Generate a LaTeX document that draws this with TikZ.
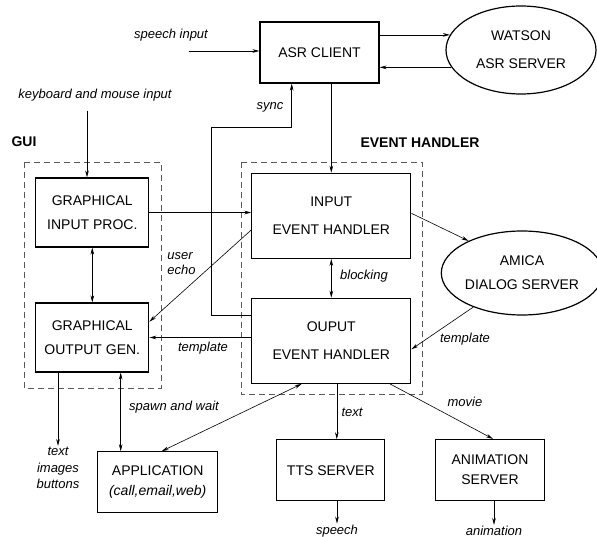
\documentclass[tikz,border=0pt]{standalone}
\usepackage{fontspec}
\setmainfont{Liberation Sans}
\usetikzlibrary{arrows.meta,shapes.geometric}

\begin{document}
\begin{tikzpicture}[x=1pt,y=-1pt,>={Stealth[length=7pt,width=3.6pt]},line width=0.6pt,
    font=\fontsize{14}{24}\selectfont,
    box/.style={draw,line width=1.2pt,align=center,inner sep=0pt},
    srv/.style={draw,ellipse,line width=1.2pt,align=center,inner sep=0pt},
    lbl/.style={font=\fontsize{13}{15}\selectfont\itshape,inner sep=1pt},
    title/.style={font=\fontsize{14}{16}\selectfont\bfseries},
    group/.style={draw=black!65,dash pattern=on 6pt off 4pt,line width=0.9pt}]
  \useasboundingbox (0,0) rectangle (597,537);
  \coordinate (spin) at (189,51);
  \coordinate (kbin) at (87,111);
  \coordinate (syncbend) at (211.7,127.3);
  % groups
  \draw[group] (24,162) rectangle (161,388);
  \draw[group] (241,162) rectangle (422,394);
  \node[title] (guititle) at (24,142) {GUI};
  \node[title] (ehtitle) at (420,143) {EVENT HANDLER};
  % boxes
  \node[box,minimum width=119pt,minimum height=61pt] (asr) at (319.5,52.5) {ASR CLIENT};
  \node[srv,minimum width=150pt,minimum height=88pt,font=\fontsize{14}{28}\selectfont] (watson) at (521,50) {WATSON\\ASR SERVER};
  \node[box,minimum width=113pt,minimum height=69pt] (gip) at (92.3,212.5) {GRAPHICAL\\INPUT PROC.};
  \node[box,minimum width=113pt,minimum height=69pt] (gog) at (92.3,337.5) {GRAPHICAL\\OUTPUT GEN.};
  \node[box,minimum width=159pt,minimum height=85pt,font=\fontsize{14}{28}\selectfont] (ieh) at (331.3,215.8) {INPUT\\EVENT HANDLER};
  \node[box,minimum width=159pt,minimum height=85pt,font=\fontsize{14}{28}\selectfont] (oeh) at (331.3,340.8) {OUPUT\\EVENT HANDLER};
  \node[srv,minimum width=148pt,minimum height=84pt] (amica) at (522,273) {AMICA\\DIALOG SERVER};
  \node[box,minimum width=120pt,minimum height=61pt,font=\fontsize{14}{20}\selectfont] (app) at (157.7,482.3) {APPLICATION\\\textit{(call,email,web)}};
  \node[box,minimum width=108pt,minimum height=61pt] (tts) at (330.8,470.3) {TTS SERVER};
  \node[box,minimum width=109pt,minimum height=61pt,font=\fontsize{14}{20}\selectfont] (anim) at (490,470) {ANIMATION\\SERVER};
  % labels
  \node[lbl] (speechlbl) at (171,35) {speech input};
  \node[lbl] (kblbl) at (95,95) {keyboard and mouse input};
  \node[lbl] (synclbl) at (270,107) {sync};
  \node[lbl,align=left,anchor=west] (echolbl) at (166,264) {user\\echo};
  \node[lbl] (tpllbl) at (203,348) {template};
  \node[lbl] (blocklbl) at (364,276) {blocking};
  \node[lbl] (tplrlbl) at (465,339) {template};
  \node[lbl] (spawnlbl) at (174,407) {spawn and wait};
  \node[lbl] (textlbl) at (352,412) {text};
  \node[lbl] (movielbl) at (465,402) {movie};
  \node[lbl,align=center,font=\fontsize{13}{16.5}\selectfont\itshape] (outtext) at (58,468) {text\\images\\buttons};
  \node[lbl] (speechout) at (337,531) {speech};
  \node[lbl] (animout) at (494,531) {animation};
  % connectors
  \draw[->] (spin) -- (spin -| asr.west);
  \draw[->] (watson.168 -| asr.east) -- (watson.168);
  \draw[->] (watson.194) -- (watson.194 -| asr.east);
  \draw[->] (ieh.north |- asr.south) -- (ieh.north);
  \draw[->] ([yshift=25.8pt]oeh.west) -| (syncbend) -| ([xshift=-27.8pt]asr.south);
  \draw[->] (kbin) -- (kbin |- gip.north);
  \draw[<->] (gip) -- (gog);
  \draw[->] (gip.east) -- (gip.east -| ieh.west);
  \draw[->] ([yshift=-14.2pt]ieh.west) -- ([yshift=15.8pt]gog.east);
  \draw[->] (gog.east -| oeh.west) -- (gog.east);
  \draw[<->] (ieh) -- (oeh);
  \draw[->] ([yshift=2.5pt]ieh.east) -- (amica.149);
  \draw[->] (amica.215) -- ([yshift=-8.5pt]oeh.east);
  \draw[->] (gog.south -| outtext) -- (outtext.north);
  \draw[<->] ([xshift=28.4pt]gog.south) -- ([xshift=28.4pt]gog.south |- app.north);
  \draw[<->] ([xshift=4pt]app.north) -- ([xshift=-29.6pt]oeh.south);
  \draw[->] ([xshift=5.5pt]oeh.south) -- ([xshift=5.5pt]oeh.south |- tts.north);
  \draw[->] ([xshift=58.7pt]oeh.south) -- ([xshift=3pt]anim.north);
  \draw[->] (tts.south -| speechout) -- (speechout.north);
  \draw[->] (anim.south -| animout) -- (animout.north);
\end{tikzpicture}
\end{document}
